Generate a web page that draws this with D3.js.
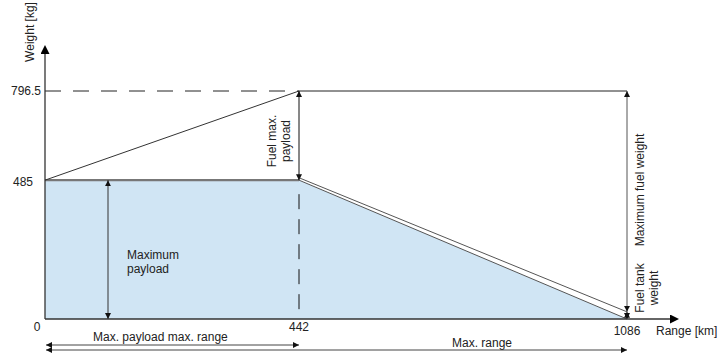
<!DOCTYPE html>
<html>
<head>
<meta charset="utf-8">
<script src="https://cdn.jsdelivr.net/npm/d3@7"></script>
<style>
  body { margin: 0; background: #fff; }
  text { font-family: "Liberation Sans", Arial, sans-serif; font-size: 12px; fill: #222; }
</style>
</head>
<body>
<svg id="chart" width="723" height="358"></svg>
<script>
// Payload–range diagram values
const rangeTicks = [0, 442, 1086];          // km
const weightTicks = [0, 485, 796.5];        // kg
const maxPayload = 485;                      // kg
const maxFuelLevel = 796.5;                  // kg
const fuelTankWeight = 25;                   // kg
const maxPayloadRange = 442;                 // km
const maxRange = 1086;                       // km

const svg = d3.select("#chart");

// Range axis is drawn piecewise so each segment keeps its own spacing
const x = d3.scaleLinear().domain([0, maxPayloadRange, maxRange]).range([45, 299, 627]);
const y = d3.scaleLinear().domain([0, maxFuelLevel]).range([319, 91]);

const defs = svg.append("defs");
defs.append("marker")
  .attr("id", "arr").attr("viewBox", "0 0 10 10")
  .attr("refX", 10).attr("refY", 5)
  .attr("markerWidth", 6).attr("markerHeight", 6)
  .attr("markerUnits", "userSpaceOnUse")
  .attr("orient", "auto-start-reverse")
  .append("path").attr("d", "M0,0 L10,5 L0,10 Z").attr("fill", "#111");
defs.append("marker")
  .attr("id", "axisArr").attr("viewBox", "0 0 10 10")
  .attr("refX", 0).attr("refY", 5)
  .attr("markerWidth", 11).attr("markerHeight", 9)
  .attr("markerUnits", "userSpaceOnUse")
  .attr("orient", "auto")
  .append("path").attr("d", "M0,0 L10,5 L0,10 Z").attr("fill", "#000");

// Payload area
const area = [[0, 0], [0, maxPayload], [maxPayloadRange, maxPayload], [maxRange, 0]];
svg.append("path")
  .attr("d", d3.line().x(d => x(d[0])).y(d => y(d[1]))(area) + "Z")
  .attr("fill", "#d0e5f4");

// Payload limit line
svg.append("line")
  .attr("x1", x(0)).attr("y1", y(maxPayload))
  .attr("x2", x(maxPayloadRange)).attr("y2", y(maxPayload))
  .attr("stroke", "#777").attr("stroke-width", 2.2);

// Payload decline beyond max-payload range
svg.append("line")
  .attr("x1", x(maxPayloadRange)).attr("y1", y(maxPayload))
  .attr("x2", x(maxRange)).attr("y2", y(0))
  .attr("stroke", "#555").attr("stroke-width", 1);
svg.append("line")
  .attr("x1", x(maxPayloadRange) + 1).attr("y1", y(maxPayload) - 2)
  .attr("x2", x(maxRange)).attr("y2", y(fuelTankWeight))
  .attr("stroke", "#555").attr("stroke-width", 1);

// Fuel added up to take-off limit
svg.append("line")
  .attr("x1", x(0)).attr("y1", y(maxPayload))
  .attr("x2", x(maxPayloadRange)).attr("y2", y(maxFuelLevel))
  .attr("stroke", "#333").attr("stroke-width", 1);

// Max level: dashed reference then solid plateau
svg.append("line")
  .attr("x1", x(0)).attr("y1", y(maxFuelLevel))
  .attr("x2", x(maxPayloadRange)).attr("y2", y(maxFuelLevel))
  .attr("stroke", "#222").attr("stroke-width", 1).attr("stroke-dasharray", "16,12");
svg.append("line")
  .attr("x1", x(maxPayloadRange)).attr("y1", y(maxFuelLevel))
  .attr("x2", x(maxRange)).attr("y2", y(maxFuelLevel))
  .attr("stroke", "#222").attr("stroke-width", 1);

// Dashed drop at max-payload range
svg.append("line")
  .attr("x1", x(maxPayloadRange)).attr("y1", y(maxPayload) + 14)
  .attr("x2", x(maxPayloadRange)).attr("y2", y(0) - 8)
  .attr("stroke", "#111").attr("stroke-width", 1).attr("stroke-dasharray", "15,10");

// Double-headed dimension arrows
function dim(x1, y1, x2, y2, color) {
  svg.append("line")
    .attr("x1", x1).attr("y1", y1).attr("x2", x2).attr("y2", y2)
    .attr("stroke", color || "#333").attr("stroke-width", 1)
    .attr("marker-start", "url(#arr)").attr("marker-end", "url(#arr)");
}
dim(x(maxPayloadRange), y(maxFuelLevel), x(maxPayloadRange), y(maxPayload), "#111");
dim(108, y(maxPayload), 108, y(0));
dim(x(maxRange), y(maxFuelLevel), x(maxRange), y(fuelTankWeight), "#555");
dim(x(maxRange), y(fuelTankWeight), x(maxRange), y(0));
dim(x(0) + 1, 345, x(maxPayloadRange), 345, "#444");
dim(x(0) + 1, 350, x(maxRange), 350, "#444");

// Axes
svg.append("line")
  .attr("x1", x(0)).attr("y1", y(0)).attr("x2", 670).attr("y2", y(0))
  .attr("stroke", "#333").attr("stroke-width", 1.3).attr("marker-end", "url(#axisArr)");
svg.append("line")
  .attr("x1", x(0)).attr("y1", y(0)).attr("x2", x(0)).attr("y2", 54)
  .attr("stroke", "#333").attr("stroke-width", 1.3).attr("marker-end", "url(#axisArr)");

// Tick labels
svg.append("text").attr("x", 41).attr("y", y(weightTicks[2]) + 4).attr("text-anchor", "end").text(weightTicks[2]);
svg.append("text").attr("x", 33).attr("y", y(weightTicks[1]) + 6).attr("text-anchor", "end").text(weightTicks[1]);
svg.append("text").attr("x", 37).attr("y", 331).attr("text-anchor", "middle").text(rangeTicks[0]);
svg.append("text").attr("x", x(rangeTicks[1])).attr("y", 331).attr("text-anchor", "middle").text(rangeTicks[1]);
svg.append("text").attr("x", x(rangeTicks[2])).attr("y", 335).attr("text-anchor", "middle").text(rangeTicks[2]);

// Axis titles
svg.append("text").attr("x", 656).attr("y", 335).text("Range [km]");
svg.append("text").attr("transform", "translate(34,32) rotate(-90)")
  .attr("text-anchor", "middle").text("Weight [kg]");

// Annotations
function vtext(cx, cy, lines) {
  const t = svg.append("text").attr("transform", `translate(${cx},${cy}) rotate(-90)`)
    .attr("text-anchor", "middle");
  lines.forEach((l, i) => t.append("tspan").attr("x", 0).attr("dy", i ? 14 : 0).text(l));
}
vtext(276, 141, ["Fuel max.", "payload"]);
vtext(644, 190, ["Maximum fuel weight"]);
vtext(644, 288, ["Fuel tank", "weight"]);

svg.append("text").attr("x", 127).attr("y", 259).text("Maximum");
svg.append("text").attr("x", 127).attr("y", 273).text("payload");
svg.append("text").attr("x", 93).attr("y", 341).text("Max. payload max. range");
svg.append("text").attr("x", 452).attr("y", 347).text("Max. range");
</script>
</body>
</html>
